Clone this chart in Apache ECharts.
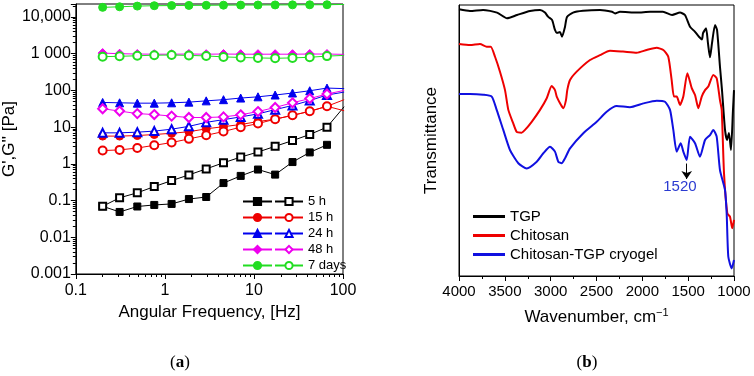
<!DOCTYPE html>
<html><head><meta charset="utf-8">
<script src="https://cdn.jsdelivr.net/npm/echarts@6/dist/echarts.min.js"></script>
<style>html,body{margin:0;padding:0;background:#fff}#c{width:754px;height:376px}</style>
</head><body><div id="c"></div>
<script>
// ---------- Panel (a): rheology ----------
const freqHz = [0.2, 0.31, 0.49, 0.76, 1.19, 1.86, 2.91, 4.55, 7.1, 11.1, 17.3, 27.1, 42.3, 66.1, 103];
const gp5h   = [0.07, 0.049, 0.069, 0.076, 0.081, 0.11, 0.125, 0.30, 0.47, 0.70, 0.51, 1.12, 2.05, 3.3, null];
const gpp5h  = [0.07, 0.119, 0.163, 0.24, 0.35, 0.50, 0.73, 1.07, 1.53, 2.1, 3.0, 4.3, 6.3, 10, 36];
const gp15h  = [5.7, 5.7, 5.9, 6.3, 6.8, 7.5, 9.0, 10.3, 11.8, 14.2, 16.5, 21, 27, 37, 28];
const gpp15h = [2.3, 2.4, 2.7, 3.2, 3.8, 4.8, 6.0, 7.6, 10, 12.5, 16.5, 21, 27, 37, 56];
const gp24h  = [47, 46, 45, 45, 46, 48, 52, 56, 62, 67, 75, 85, 98, 116, 112];
const gpp24h = [7.0, 7.0, 7.3, 7.8, 8.8, 10.5, 13.5, 16, 19, 23, 30, 39, 53, 75, 90];
const gp48h  = [1040, 1000, 980, 970, 970, 980, 970, 980, 970, 970, 970, 970, 980, 980, 960];
const gpp48h = [31.7, 27.4, 23.4, 22, 20, 18.3, 18.3, 19, 21.7, 26.6, 34.4, 46, 60, 80, 100];
const gp7d   = [18300, 19000, 19800, 20300, 20500, 20700, 20800, 21000, 21100, 21200, 21300, 21400, 21500, 21600, 22000];
const gpp7d  = [830, 850, 880, 910, 920, 900, 870, 820, 790, 770, 750, 770, 800, 860, 900];
const legendLabels = ['5 h', '15 h', '24 h', '48 h', '7 days'];
const yTickLabels = {'-3': '0.001', '-2': '0.01', '-1': '0.1', '0': '1', '1': '10', '2': '100', '3': '1 000', '4': '10,000'};
const xTickLabels = {'-1': '0.1', '0': '1', '1': '10', '2': '100'};

// ---------- Panel (b): FTIR ----------
const tgpWn = [4000,3880,3738,3585,3476,3367,3225,3116,3062,3029,2985,2953,2931,2898,2876,2844,2822,2756,2647,2462,2331,2298,2244,2058,1916,1775,1676,1589,1535,1480,1425,1382,1349,1338,1305,1284,1262,1240,1207,1185,1153,1131,1098,1076,1055,1033,1011,1000];
const tgpT  = [98.4,97.8,98.2,97.2,95.1,96.3,97.8,98.2,97.2,95.7,94.5,90.8,89.7,90.0,88.3,91.9,95.6,97.2,97.9,98.2,97.5,96.9,97.5,97.2,97.5,97.5,96.3,97.2,96.3,92.0,90.1,88.3,87.3,89.6,91.4,85.9,80.7,85.9,92.6,90.8,77.2,68.6,53.9,50.2,52.8,46.5,61.3,68.6];
const chiWn = [4000,3880,3771,3698,3654,3607,3553,3498,3462,3408,3371,3316,3280,3207,3116,3043,2989,2953,2934,2887,2862,2833,2819,2789,2716,2571,2462,2353,2211,2061,1952,1843,1771,1717,1680,1655,1625,1589,1553,1509,1461,1425,1389,1352,1316,1280,1226,1189,1153,1134,1109,1073,1044,1019,1000];
const chiT  = [85.6,85.2,85.6,84.6,84.6,80.9,75.4,68.6,61.3,56.3,53.2,52.9,53.9,56.9,61.3,65.6,70.1,68.6,66.2,63.1,61.9,64.9,68.6,72.3,75.4,79.7,81.5,83.1,82.8,82.4,83.4,84.2,83.4,80.9,72.3,66.2,66.2,63.1,66.2,74.8,69.3,66.8,61.9,66.2,68.6,69.9,74.2,73.0,64.9,61.3,37.9,23.1,21.9,17.6,20.7];
const cryWn = [4000,3880,3735,3643,3589,3517,3444,3353,3261,3152,3080,3007,2953,2917,2880,2844,2789,2644,2498,2389,2280,2135,1989,1843,1753,1698,1662,1625,1581,1553,1516,1480,1425,1371,1316,1262,1226,1189,1153,1098,1080,1062,1025,1000];
const cryT  = [67.2,67.2,66.9,66.2,61.3,53.9,46.5,41.6,39.7,42.2,45.3,47.7,45.9,42.2,41.6,43.4,47.1,52.7,56.9,60.6,62.7,62.3,63.7,64.7,64.3,61.3,53.9,45.9,49.0,45.9,42.8,51.4,49.0,44.0,50.2,52.0,53.9,51.4,39.1,31.7,23.1,7.1,2.8,5.9];
const ftirNames = ['TGP', 'Chitosan', 'Chitosan-TGP cryogel'];
const peakLabel = '1520';
const peakArrow = {wn: 1516, from: 41.5, to: 35.8};
const peakText = {wn: 1590, t: 33};

const FONT = 'Liberation Sans, Arial, Helvetica, sans-serif';
const zip = (xs, ys) => xs.map((x, i) => [x, ys[i]]);

const leftDefs = [
  ["5 h G'",  gp5h,  '#000000', 'rect', 7],
  ['5 h',     gpp5h, '#000000', 'emptyRect', 7],
  ["15 h G'", gp15h, '#ee0000', 'circle', 8],
  ['15 h',    gpp15h,'#ee0000', 'emptyCircle', 8],
  ["24 h G'", gp24h, '#0000ee', 'triangle', 8],
  ['24 h',    gpp24h,'#0000ee', 'emptyTriangle', 8],
  ["48 h G'", gp48h, '#ee00ee', 'diamond', 9],
  ['48 h',    gpp48h,'#ee00ee', 'emptyDiamond', 9],
  ["7 days G'", gp7d, '#22dd22', 'circle', 8],
  ['7 days',  gpp7d, '#22dd22', 'emptyCircle', 8]
];

const series = leftDefs.map(([name, vals, color, symbol, size]) => ({
  name, type: 'line', xAxisIndex: 0, yAxisIndex: 0,
  data: zip(freqHz, vals), symbol, symbolSize: size, showAllSymbol: true,
  color, itemStyle: {color, borderColor: color, borderWidth: 1},
  lineStyle: {color, width: 1}, connectNulls: false, clip: true
}));

const ftirColors = ['#000000', '#ee0000', '#1010e0'];
[[tgpWn, tgpT], [chiWn, chiT], [cryWn, cryT]].forEach(([wn, t], i) => {
  const s = {
    name: ftirNames[i], type: 'line', xAxisIndex: 1, yAxisIndex: 1,
    data: zip(wn, t), symbol: 'none', smooth: 0.2,
    color: ftirColors[i], lineStyle: {color: ftirColors[i], width: 2}
  };
  if (i === 2) {
    s.markLine = {
      silent: true, symbol: ['none', 'arrow'], symbolSize: 8,
      lineStyle: {color: '#000', width: 1, type: 'solid'}, label: {show: false},
      data: [[{coord: [peakArrow.wn, peakArrow.from]}, {coord: [peakArrow.wn, peakArrow.to]}]]
    };
    s.markPoint = {
      silent: true, symbol: 'circle', symbolSize: 0,
      label: {show: true, position: 'inside', formatter: peakLabel, color: '#2b3bd1', fontSize: 15, fontFamily: FONT},
      data: [{coord: [peakText.wn, peakText.t]}]
    };
  }
  series.push(s);
});

const logLabel = (map) => (v) => {
  const l = Math.log10(v), r = Math.round(l);
  return Math.abs(l - r) < 0.01 && map[String(r)] !== undefined ? map[String(r)] : '';
};

const axisCommon = {
  axisLine: {show: true, lineStyle: {color: '#000', width: 1}},
  axisTick: {show: true, inside: false, length: 5, lineStyle: {color: '#000'}},
  minorTick: {show: true, length: 3, lineStyle: {color: '#000'}},
  splitLine: {show: false}, minorSplitLine: {show: false},
  axisLabel: {color: '#000', fontFamily: FONT},
  nameTextStyle: {color: '#000', fontFamily: FONT, fontSize: 17}
};

const option = {
  animation: false,
  backgroundColor: '#fff',
  grid: [
    {left: 67, top: 4, width: 276, height: 270, show: true, borderColor: '#000', borderWidth: 1, backgroundColor: 'transparent'},
    {left: 459, top: 5, width: 275, height: 271, show: true, borderColor: '#000', borderWidth: 1, backgroundColor: 'transparent'}
  ],
  xAxis: [
    Object.assign({}, axisCommon, {
      type: 'log', gridIndex: 0, logBase: 10, min: 0.1, max: 100,
      minorTick: Object.assign({}, axisCommon.minorTick, {splitNumber: 9}),
      axisLabel: Object.assign({}, axisCommon.axisLabel, {fontSize: 16, margin: 9, formatter: logLabel(xTickLabels)}),
      name: 'Angular Frequency, [Hz]', nameLocation: 'middle', nameGap: 30
    }),
    Object.assign({}, axisCommon, {
      type: 'value', gridIndex: 1, inverse: true, min: 1000, max: 4000, interval: 500,
      minorTick: Object.assign({}, axisCommon.minorTick, {splitNumber: 2}),
      axisLabel: Object.assign({}, axisCommon.axisLabel, {fontSize: 15, margin: 8, formatter: (v) => String(v)}),
      name: 'Wavenumber, cm{sup|−1}', nameLocation: 'middle', nameGap: 31,
      nameTextStyle: Object.assign({}, axisCommon.nameTextStyle, {rich: {sup: {fontSize: 11, fontFamily: FONT, color: '#000', padding: [0, 0, 9, 0]}}})
    })
  ],
  yAxis: [
    Object.assign({}, axisCommon, {
      type: 'log', gridIndex: 0, logBase: 10, min: 0.001, max: 22600,
      minorTick: Object.assign({}, axisCommon.minorTick, {splitNumber: 9}),
      axisLabel: Object.assign({}, axisCommon.axisLabel, {fontSize: 16, margin: 5, formatter: logLabel(yTickLabels), showMaxLabel: false}),
      name: "G',G'' [Pa]", nameLocation: 'middle', nameGap: 45
    }),
    Object.assign({}, axisCommon, {
      type: 'value', gridIndex: 1, min: 0, max: 100,
      axisTick: {show: false}, minorTick: {show: false}, axisLabel: {show: false},
      name: 'Transmittance', nameLocation: 'middle', nameGap: 19
    })
  ],
  legend: [
    {
      orient: 'vertical', left: 237, top: 190, itemWidth: 29, itemHeight: 9, itemGap: 3,
      data: leftDefs.filter((d, i) => i % 2 === 0).map(d => d[0]),
      formatter: () => ' ', selectedMode: false,
      textStyle: {fontSize: 13, lineHeight: 13, fontFamily: FONT, color: '#000'}
    },
    {
      orient: 'vertical', left: 269, top: 190, itemWidth: 28, itemHeight: 9, itemGap: 3,
      data: leftDefs.filter((d, i) => i % 2 === 1).map(d => d[0]), selectedMode: false,
      textStyle: {fontSize: 13, lineHeight: 13, fontFamily: FONT, color: '#000'}
    },
    {
      orient: 'vertical', left: 468, top: 204, itemWidth: 32, itemHeight: 3, itemGap: 4,
      icon: 'rect', data: ftirNames, selectedMode: false,
      textStyle: {fontSize: 15, lineHeight: 15, fontFamily: FONT, color: '#000'}
    }
  ],
  graphic: [
    {type: 'text', x: 180, y: 363, style: {text: '({b|a})', fill: '#000', font: '17px Liberation Serif, serif', align: 'center', verticalAlign: 'middle', rich: {b: {fontWeight: 'bold', fontSize: 17, fontFamily: 'Liberation Serif, serif'}}}},
    {type: 'text', x: 587, y: 363, style: {text: '({b|b})', fill: '#000', font: '17px Liberation Serif, serif', align: 'center', verticalAlign: 'middle', rich: {b: {fontWeight: 'bold', fontSize: 17, fontFamily: 'Liberation Serif, serif'}}}}
  ],
  series
};

const chart = echarts.init(document.getElementById('c'), null, {renderer: 'canvas'});
chart.setOption(option);
</script></body></html>
